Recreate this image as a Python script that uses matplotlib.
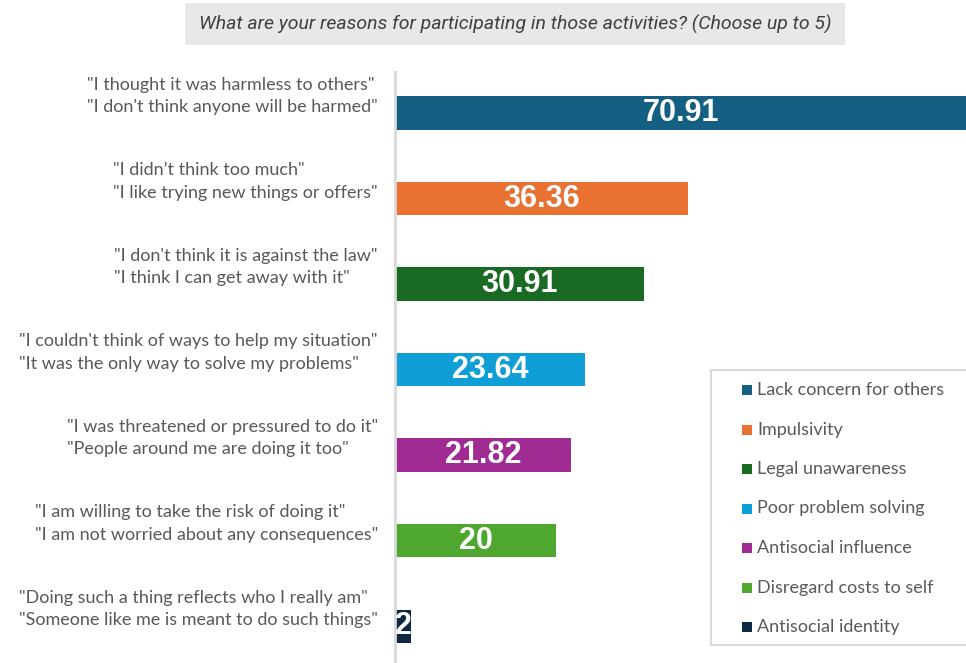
import matplotlib
matplotlib.use("Agg")
import matplotlib.pyplot as plt
from matplotlib.patches import Rectangle
from matplotlib.transforms import blended_transform_factory

# reasons, shown top to bottom
categories = ["Lack concern for others", "Impulsivity", "Legal unawareness",
              "Poor problem solving", "Antisocial influence",
              "Disregard costs to self", "Antisocial identity"]
values = [70.91, 36.36, 30.91, 23.64, 21.82, 20, 2]
value_labels = ["70.91", "36.36", "30.91", "23.64", "21.82", "20", "2"]
quotes = [
    '"I thought it was harmless to others"\n"I don\'t think anyone will be harmed"',
    '"I didn\u2019t think too much"\n"I like trying new things or offers"',
    '"I don\'t think it is against the law"\n"I think I can get away with it"',
    '"I couldn\'t think of ways to help my situation"\n"It was the only way to solve my problems"',
    '"I was threatened or pressured to do it"\n"People around me are doing it too"',
    '"I am willing to take the risk of doing it"\n"I am not worried about any consequences"',
    '"Doing such a thing reflects who I really am"\n"Someone like me is meant to do such things"',
]
colors = ["#156082", "#E97132", "#196B24", "#0F9ED5", "#A02B93", "#4EA72E", "#0E2841"]
title = "What are your reasons for participating in those activities? (Choose up to 5)"

plt.rcParams['font.family'] = ['Lato', 'DejaVu Sans']

W, H = 966, 663
fig = plt.figure(figsize=(W / 100, H / 100), dpi=100)
ax = fig.add_axes([395 / W, 0, 571 / W, 591 / H])

pos = list(range(len(values)))
ax.barh(pos, values, height=0.39, color=colors)
ax.set_xlim(0, 70.91)
ax.set_ylim(6.43, -0.48)

for p, v, lab in zip(pos, values, value_labels):
    ax.text(v / 2, p, lab, ha='center', va='center', color='white',
            fontsize=22, fontweight='bold', family=['Liberation Sans', 'DejaVu Sans'])

trans = blended_transform_factory(ax.transAxes, ax.transData)
for p, q in zip(pos, quotes):
    ax.text(-0.03, p - 0.2, q, transform=trans, ha='right', va='center',
            multialignment='left', fontsize=13, color='#595959', linespacing=1.5)

for s in ['top', 'right', 'bottom']:
    ax.spines[s].set_visible(False)
ax.spines['left'].set_color('#D9D9D9')
ax.spines['left'].set_linewidth(2)
ax.set_xticks([])
ax.set_yticks([])

# title banner
fig.patches.append(Rectangle((185 / W, 1 - 45 / H), 660 / W, 42 / H,
                             transform=fig.transFigure, facecolor='#E8E8E8',
                             edgecolor='none', zorder=0))
fig.text(515 / W, 1 - 24 / H, title, ha='center', va='center', fontsize=14,
         style='italic', color='#404040', family=['Roboto', 'DejaVu Sans'])

# legend box drawn by hand
fig.patches.append(Rectangle((711 / W, 1 - 645 / H), 270 / W, 275 / H,
                             transform=fig.transFigure, facecolor='white',
                             edgecolor='#D9D9D9', linewidth=1.5, zorder=3))
for i, (c, name) in enumerate(zip(colors, categories)):
    yc = 390 + 39.5 * i
    fig.patches.append(Rectangle((742 / W, 1 - (yc + 5) / H), 10 / W, 10 / H,
                                 transform=fig.transFigure, facecolor=c,
                                 edgecolor='none', zorder=4))
    fig.text(757 / W, 1 - yc / H, name, ha='left', va='center', fontsize=13,
             color='#595959', zorder=5)

fig.savefig("out.png", dpi=100)
